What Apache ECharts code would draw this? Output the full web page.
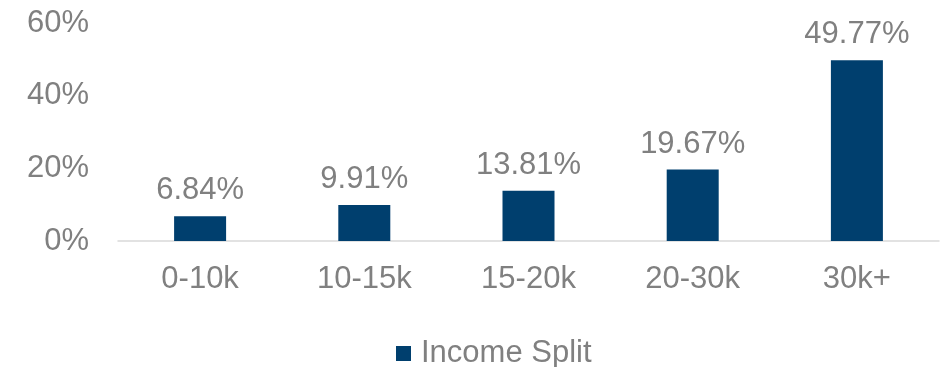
<!DOCTYPE html>
<html><head><meta charset="utf-8">
<script src="https://cdn.jsdelivr.net/npm/echarts@6/dist/echarts.min.js"></script>
<style>html,body{margin:0;padding:0;background:#fff}#c{width:946px;height:367px}</style>
</head><body><div id="c"></div>
<script>
const categories = ['0-10k','10-15k','15-20k','20-30k','30k+'];
const values = [6.84, 9.91, 13.81, 19.67, 49.77];
const seriesName = 'Income Split';
const chart = echarts.init(document.getElementById('c'));
const font = 'Liberation Sans, Arial, sans-serif';
const fs = 31;
chart.setOption({
  animation:false,
  grid:{left:118,right:7,top:23,bottom:126},
  legend:{top:333,left:391,itemWidth:15,itemHeight:15,itemGap:9,icon:'rect',
    textStyle:{color:'#808080',fontSize:fs,fontFamily:font,padding:[0,0,0,5]},data:[seriesName]},
  xAxis:{type:'category',data:categories,
    axisLine:{lineStyle:{color:'#d9d9d9',width:1.5}},axisTick:{show:false},
    axisLabel:{color:'#808080',fontSize:fs,fontFamily:font,margin:23}},
  yAxis:{type:'value',min:0,max:60,interval:20,
    axisLabel:{formatter:'{value}%',color:'#808080',fontSize:fs,fontFamily:font,margin:29},
    splitLine:{show:false},axisLine:{show:false},axisTick:{show:false}},
  series:[{name:seriesName,type:'bar',data:values,barWidth:52,
    itemStyle:{color:'#003f6e'},
    label:{show:true,position:'top',distance:10,formatter:p=>p.value.toFixed(2)+'%',
      color:'#808080',fontSize:fs,fontFamily:font}}]
});
</script></body></html>
